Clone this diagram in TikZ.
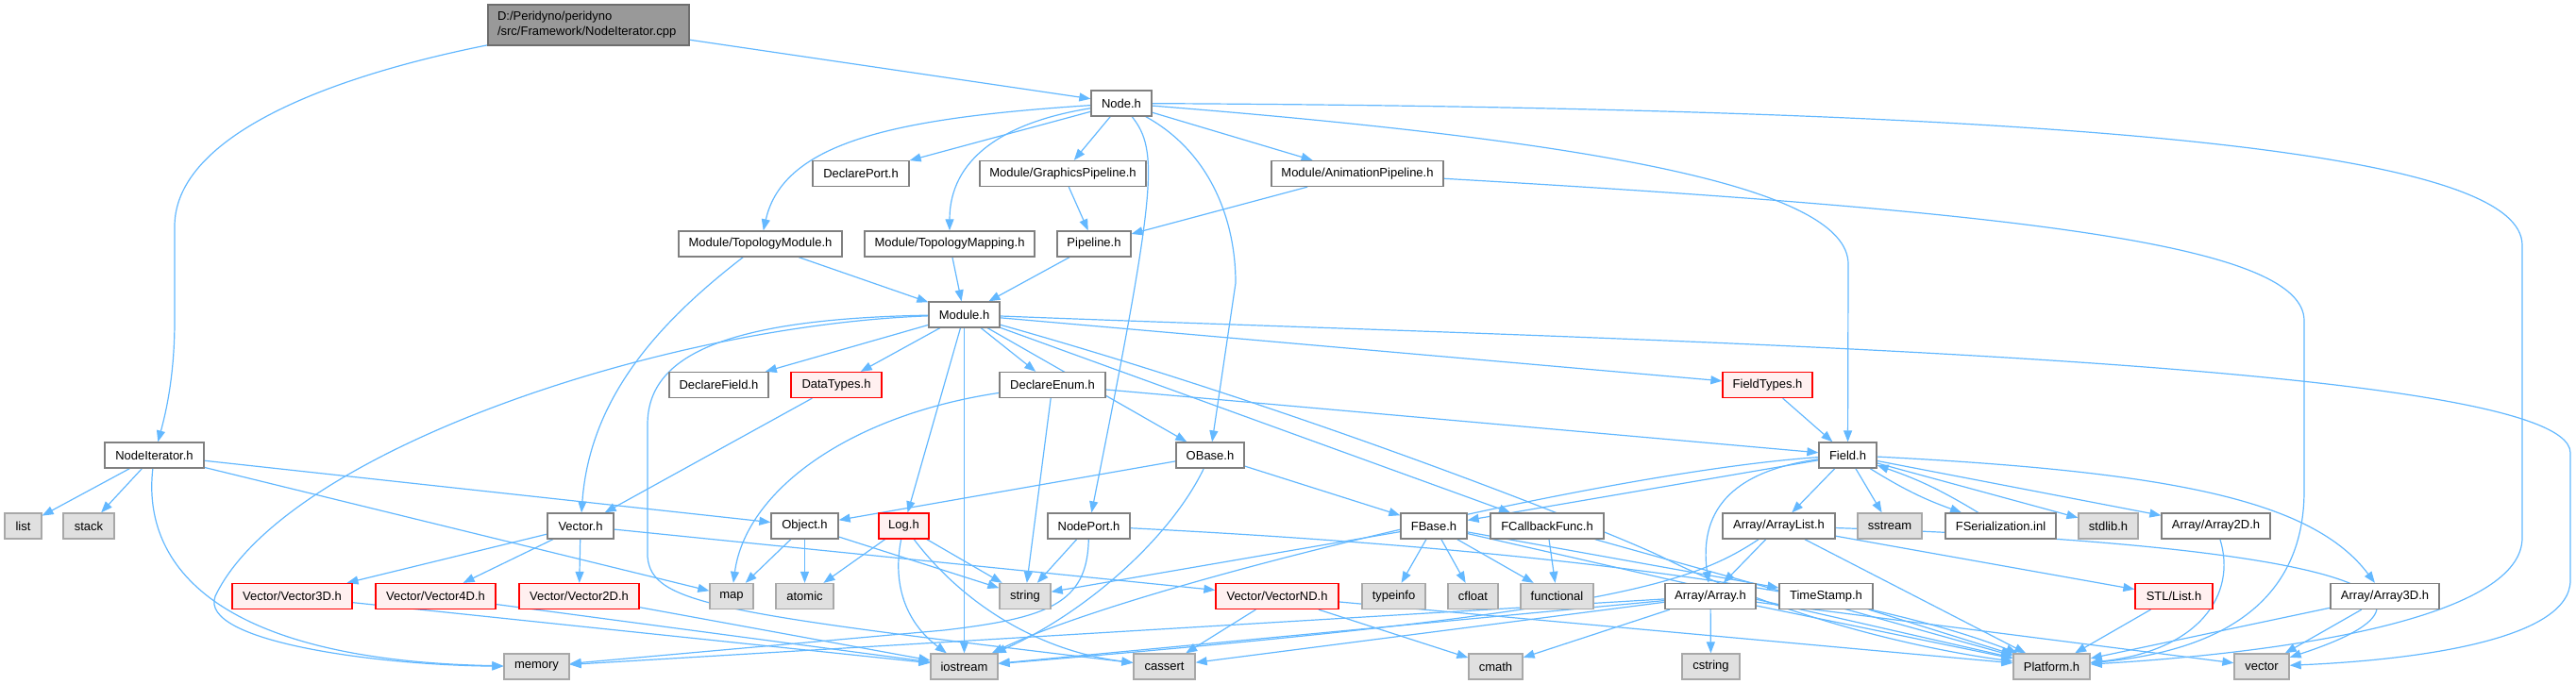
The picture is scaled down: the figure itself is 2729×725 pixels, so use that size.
\documentclass[tikz,border=0pt]{standalone}
\usepackage{fontspec}
\setmainfont{Liberation Sans}
\usetikzlibrary{arrows.meta,backgrounds}
\definecolor{edgec}{HTML}{63B8FF}
\definecolor{wborder}{HTML}{808080}
\definecolor{gborder}{HTML}{A8A8A8}
\definecolor{gfill}{HTML}{E0E0E0}
\definecolor{rfill}{HTML}{FFF0F0}
\definecolor{rootfill}{HTML}{999999}
\definecolor{rootborder}{HTML}{6E6E6E}
\tikzset{
  base/.style={draw, minimum height=27pt, inner sep=0pt, line width=1.3pt,
    font=\fontsize{13}{16}\selectfont, anchor=center},
  box/.style={base, fill=white, draw=wborder},
  sysbox/.style={base, fill=gfill, draw=gborder},
  redbox/.style={base, fill=rfill, draw=red},
  rootbox/.style={base, fill=rootfill, draw=rootborder, minimum height=43pt,
    text width=193pt, align=left, inner xsep=10pt},
  e/.style={draw=edgec, line width=1.2pt, -{Triangle[length=12pt,width=9pt]}}
}
\begin{document}
\begin{tikzpicture}[x=1pt,y=-1pt]
\useasboundingbox (0,0) rectangle (2729,725);
% nodes
\node[rootbox, minimum width=213pt] (root) at (623.5,26.5) {D:/Peridyno/peridyno\\/src/Framework/NodeIterator.cpp};
\node[box, minimum width=64pt] (nodeh) at (1188,109.5) {Node.h};
\node[box, minimum width=102pt] (declport) at (912,184) {DeclarePort.h};
\node[box, minimum width=176pt] (gpipe) at (1126,184) {Module/GraphicsPipeline.h};
\node[box, minimum width=182pt] (apipe) at (1438,184) {Module/AnimationPipeline.h};
\node[box, minimum width=173pt] (topmod) at (805.5,258.5) {Module/TopologyModule.h};
\node[box, minimum width=180pt] (topmap) at (1006,258.5) {Module/TopologyMapping.h};
\node[box, minimum width=78pt] (pipeline) at (1159,258.5) {Pipeline.h};
\node[box, minimum width=75pt] (module) at (1021.5,333.5) {Module.h};
\node[box, minimum width=105pt] (declfield) at (761.5,408) {DeclareField.h};
\node[redbox, minimum width=96pt] (datatypes) at (886,408) {DataTypes.h};
\node[box, minimum width=112pt] (declenum) at (1115,408) {DeclareEnum.h};
\node[redbox, minimum width=95pt] (fieldtypes) at (1872.5,408) {FieldTypes.h};
\node[box, minimum width=105pt] (nodeit) at (163.5,482.5) {NodeIterator.h};
\node[box, minimum width=72pt] (obase) at (1282,482.5) {OBase.h};
\node[box, minimum width=61pt] (field) at (1957.5,482.5) {Field.h};
\node[sysbox, minimum width=39pt] (list) at (24.5,557.5) {list};
\node[sysbox, minimum width=54pt] (stack) at (94,557.5) {stack};
\node[box, minimum width=70pt] (vectorh) at (615,557.5) {Vector.h};
\node[box, minimum width=71pt] (object) at (852.5,557.5) {Object.h};
\node[redbox, minimum width=53pt] (log) at (957.5,557.5) {Log.h};
\node[box, minimum width=87pt] (nodeport) at (1153.5,557.5) {NodePort.h};
\node[box, minimum width=70pt] (fbase) at (1519,557.5) {FBase.h};
\node[box, minimum width=120pt] (fcb) at (1639,557.5) {FCallbackFunc.h};
\node[box, minimum width=119pt] (arrlist) at (1884.5,557.5) {Array/ArrayList.h};
\node[sysbox, minimum width=68pt] (sstream) at (2002,557.5) {sstream};
\node[box, minimum width=117pt] (fser) at (2119.5,557.5) {FSerialization.inl};
\node[sysbox, minimum width=63pt] (stdlib) at (2233.5,557.5) {stdlib.h};
\node[box, minimum width=115pt] (arr2d) at (2347.5,557.5) {Array/Array2D.h};
\node[redbox, minimum width=127pt] (v3d) at (309.5,632) {Vector/Vector3D.h};
\node[redbox, minimum width=127pt] (v4d) at (461.5,632) {Vector/Vector4D.h};
\node[redbox, minimum width=127pt] (v2d) at (613.5,632) {Vector/Vector2D.h};
\node[sysbox, minimum width=46pt] (map) at (775,632) {map};
\node[sysbox, minimum width=61pt] (atomic) at (852.5,632) {atomic};
\node[sysbox, minimum width=54pt] (string) at (1086,632) {string};
\node[redbox, minimum width=130pt] (vnd) at (1353,632) {Vector/VectorND.h};
\node[sysbox, minimum width=67pt] (typeinfo) at (1476.5,632) {typeinfo};
\node[sysbox, minimum width=53pt] (cfloat) at (1560.5,632) {cfloat};
\node[sysbox, minimum width=77pt] (functional) at (1649.5,632) {functional};
\node[box, minimum width=96pt] (array) at (1812,632) {Array/Array.h};
\node[box, minimum width=99pt] (timestamp) at (1934.5,632) {TimeStamp.h};
\node[redbox, minimum width=82pt] (stllist) at (2303,632) {STL/List.h};
\node[box, minimum width=115pt] (arr3d) at (2526.5,632) {Array/Array3D.h};
\node[sysbox, minimum width=69pt] (memory) at (568.5,706.5) {memory};
\node[sysbox, minimum width=71pt] (iostream) at (1021.5,706.5) {iostream};
\node[sysbox, minimum width=65pt] (cassert) at (1233.5,706.5) {cassert};
\node[sysbox, minimum width=57pt] (cmath) at (1584.5,706.5) {cmath};
\node[sysbox, minimum width=61pt] (cstring) at (1812.5,706.5) {cstring};
\node[sysbox, minimum width=81pt] (platform) at (2173.5,706.5) {Platform.h};
\node[sysbox, minimum width=58pt] (vector) at (2396,706.5) {vector};
% edges
\begin{pgfonlayer}{background}
\draw[e] (root) -- (nodeh);
\draw[e] (root) .. controls (330,85) and (185,150) .. (185,240) -- (185,340) .. controls (185,400) and (175,440) .. (nodeit);
\draw[e] (nodeh) .. controls (950,125) and (830,150) .. (topmod);
\draw[e] (nodeh) -- (declport);
\draw[e] (nodeh) .. controls (1060,130) and (1006,170) .. (topmap);
\draw[e] (nodeh) -- (gpipe);
\draw[e] (nodeh) .. controls (1228,160) and (1225,200) .. (nodeport);
\draw[e] (nodeh) .. controls (1280,160) and (1309,230) .. (1309,300) -- (obase);
\draw[e] (nodeh) -- (apipe);
\draw[e] (nodeh) .. controls (1700,150) and (1958,200) .. (1958,280) -- (field);
\draw[e] (nodeh) .. controls (2300,115) and (2672,170) .. (2672,260) -- (2672,570) .. controls (2672,650) and (2450,690) .. (platform);
\draw[e] (apipe) -- (pipeline);
\draw[e] (apipe) .. controls (2150,225) and (2441,260) .. (2441,340) -- (2441,520) .. controls (2441,640) and (2350,690) .. (platform);
\draw[e] (gpipe) -- (pipeline);
\draw[e] (topmod) -- (module);
\draw[e] (topmod) .. controls (700,340) and (625,420) .. (vectorh);
\draw[e] (topmap) -- (module);
\draw[e] (pipeline) -- (module);
\draw[e] (module) .. controls (700,345) and (300,480) .. (228,632) .. controls (210,680) and (400,705) .. (memory);
\draw[e] (module) .. controls (760,338) and (686,380) .. (686,450) -- (686,590) .. controls (690,640) and (760,650) .. (cassert);
\draw[e] (module) -- (declfield);
\draw[e] (module) -- (datatypes);
\draw[e] (module) -- (log);
\draw[e] (module) -- (iostream);
\draw[e] (module) -- (declenum);
\draw[e] (module) -- (obase);
\draw[e] (module) -- (fcb);
\draw[e] (module) -- (fieldtypes);
\draw[e] (module) .. controls (1700,360) and (2723,380) .. (2723,480) -- (2723,615) .. controls (2723,680) and (2550,700) .. (vector);
\draw[e] (module) .. controls (1400,440) and (1720,570) .. (1760,590) .. controls (1900,660) and (2050,690) .. (platform);
\draw[e] (datatypes) -- (vectorh);
\draw[e] (declenum) .. controls (900,440) and (790,520) .. (map);
\draw[e] (declenum) -- (string);
\draw[e] (declenum) -- (field);
\draw[e] (fieldtypes) -- (field);
\draw[e] (nodeit) -- (list);
\draw[e] (nodeit) -- (stack);
\draw[e] (nodeit) .. controls (150,600) and (230,700) .. (memory);
\draw[e] (nodeit) -- (object);
\draw[e] (nodeit) -- (map);
\draw[e] (obase) -- (object);
\draw[e] (obase) -- (fbase);
\draw[e] (obase) .. controls (1240,570) and (1150,650) .. (iostream);
\draw[e] (nodeport) -- (string);
\draw[e] (nodeport) .. controls (1152,640) and (1110,655) .. (1000,668) -- (memory);
\draw[e] (nodeport) .. controls (1400,570) and (1900,600) .. (platform);
\draw[e] (vectorh) -- (v3d);
\draw[e] (vectorh) -- (v4d);
\draw[e] (vectorh) -- (v2d);
\draw[e] (vectorh) -- (vnd);
\draw[e] (v3d) -- (iostream);
\draw[e] (v4d) -- (iostream);
\draw[e] (v2d) -- (iostream);
\draw[e] (object) -- (map);
\draw[e] (object) -- (atomic);
\draw[e] (object) -- (string);
\draw[e] (log) -- (atomic);
\draw[e] (log) -- (string);
\draw[e] (log) .. controls (945,620) and (960,660) .. (iostream);
\draw[e] (log) .. controls (1020,640) and (1100,690) .. (cassert);
\draw[e] (vnd) -- (cassert);
\draw[e] (vnd) -- (cmath);
\draw[e] (vnd) -- (platform);
\draw[e] (field) -- (fbase);
\draw[e] (field) .. controls (1700,500) and (1200,620) .. (iostream);
\draw[e] (field) -- (arrlist);
\draw[e] (field) -- (sstream);
\draw[e] (field) to[bend right=6] (fser);
\draw[e] (fser) to[bend right=6] (field);
\draw[e] (field) -- (stdlib);
\draw[e] (field) -- (arr2d);
\draw[e] (field) .. controls (2300,500) and (2450,530) .. (arr3d);
\draw[e] (field) .. controls (1830,500) and (1800,545) .. (array);
\draw[e] (fbase) -- (typeinfo);
\draw[e] (fbase) -- (cfloat);
\draw[e] (fbase) -- (functional);
\draw[e] (fbase) -- (string);
\draw[e] (fbase) -- (timestamp);
\draw[e] (fbase) -- (platform);
\draw[e] (fcb) -- (functional);
\draw[e] (fcb) -- (platform);
\draw[e] (arrlist) -- (array);
\draw[e] (arrlist) -- (stllist);
\draw[e] (arrlist) -- (platform);
\draw[e] (arrlist) .. controls (2400,575) and (2660,620) .. (vector);
\draw[e] (arrlist) .. controls (1790,620) and (1700,650) .. (iostream);
\draw[e] (array) -- (cstring);
\draw[e] (array) -- (cmath);
\draw[e] (array) -- (platform);
\draw[e] (array) -- (vector);
\draw[e] (array) -- (iostream);
\draw[e] (array) -- (cassert);
\draw[e] (array) -- (memory);
\draw[e] (timestamp) -- (platform);
\draw[e] (stllist) -- (platform);
\draw[e] (arr2d) .. controls (2370,630) and (2330,690) .. (platform);
\draw[e] (arr3d) -- (platform);
\draw[e] (arr3d) -- (vector);
\end{pgfonlayer}
\end{tikzpicture}
\end{document}
